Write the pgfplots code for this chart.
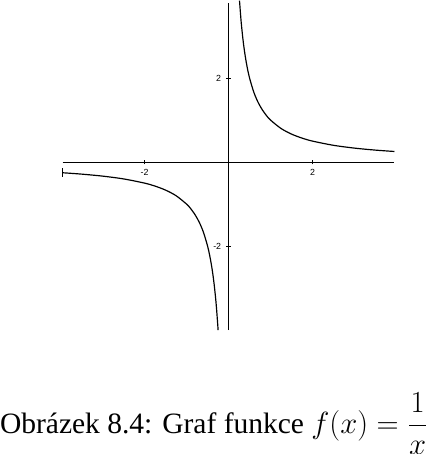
\documentclass[border=0pt]{standalone}
\usepackage{pgfplots}
\pgfplotsset{compat=1.18}
\usepackage{fontspec}
\setmainfont{Liberation Serif}
\setsansfont{Liberation Sans}
\begin{document}
\begin{tikzpicture}
\begin{axis}[
  x=1cm, y=1cm,
  axis lines=middle,
  axis line style={-, thin},
  xmin=-3.95, xmax=3.95, ymin=-4, ymax=3.8,
  xtick={-2,0,2}, ytick={-2,0,2},
  tick style={thin, black},
  major tick length=3pt,
  tick label style={font=\sffamily\fontsize{6}{7}\selectfont},
  /pgf/number format/assume math mode=true,
  clip=false,
]
\addplot[black, thick, smooth] coordinates {
(-3.95,-0.2532) (-3.5,-0.2857) (-3,-0.3333) (-2.5,-0.4) (-2,-0.5) (-1.75,-0.5714) (-1.5,-0.6667) (-1.25,-0.8) (-1,-1) (-0.9,-1.1111) (-0.8,-1.25) (-0.7,-1.4286) (-0.6,-1.6667) (-0.5,-2) (-0.45,-2.2222) (-0.4,-2.5) (-0.35,-2.8571) (-0.3,-3.3333) (-0.26,-3.8462) (-0.25,-4)};
\addplot[black, thick, smooth] coordinates {
(0.26,3.8462) (0.3,3.3333) (0.35,2.8571) (0.4,2.5) (0.45,2.2222) (0.5,2) (0.6,1.6667) (0.7,1.4286) (0.8,1.25) (0.9,1.1111) (1,1) (1.25,0.8) (1.5,0.6667) (1.75,0.5714) (2,0.5) (2.5,0.4) (3,0.3333) (3.5,0.2857) (3.95,0.2532)};
\draw[black] (axis cs:-3.95,-0.35) -- (axis cs:-3.95,-0.15);
\node[anchor=base west, inner sep=0pt, font=\fontsize{20}{24}\selectfont] at (axis cs:-5.45,-6.45) {Obrázek 8.4: Graf funkce $f(x)=\displaystyle\frac{1}{x}$};
\end{axis}
\end{tikzpicture}
\end{document}
